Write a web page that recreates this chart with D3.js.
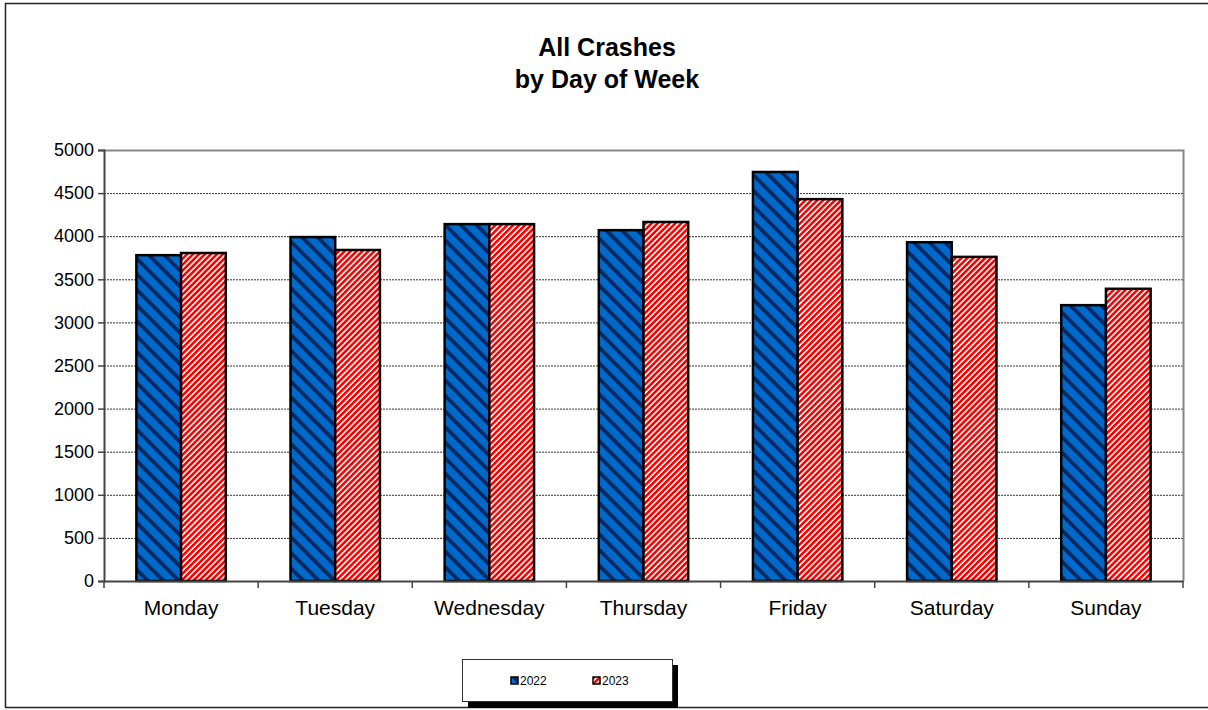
<!DOCTYPE html>
<html>
<head>
<meta charset="utf-8">
<script src="https://d3js.org/d3.v7.min.js"></script>
<style>
  body { margin: 0; background: #fff; }
  svg text { font-family: "Liberation Sans", Arial, sans-serif; }
</style>
</head>
<body>
<svg id="chart" width="1208" height="710"></svg>
<script>
// data
var days = ["Monday", "Tuesday", "Wednesday", "Thursday", "Friday", "Saturday", "Sunday"];
var years = ["2022", "2023"];
var crashes2022 = [3780, 3990, 4140, 4070, 4745, 3930, 3200];
var crashes2023 = [3805, 3840, 4140, 4165, 4430, 3760, 3390];
var yTicks = [0, 500, 1000, 1500, 2000, 2500, 3000, 3500, 4000, 4500, 5000];

var series = [crashes2022, crashes2023];

var svg = d3.select("#chart");

// hatch patterns
var defs = svg.append("defs");
var p1 = defs.append("pattern")
    .attr("id", "hatch2022")
    .attr("patternUnits", "userSpaceOnUse")
    .attr("width", 11).attr("height", 11)
    .attr("patternTransform", "rotate(-45)");
p1.append("rect").attr("width", 11).attr("height", 11).attr("fill", "#006ACC");
p1.append("rect").attr("width", 3.8).attr("height", 11).attr("fill", "#0A2860");

var p2 = defs.append("pattern")
    .attr("id", "hatch2023")
    .attr("patternUnits", "userSpaceOnUse")
    .attr("width", 4.2).attr("height", 4.2)
    .attr("patternTransform", "rotate(45)");
p2.append("rect").attr("width", 4.2).attr("height", 4.2).attr("fill", "#ffffff");
p2.append("rect").attr("width", 2.6).attr("height", 4.2).attr("fill", "#FF0000");

var fills = ["url(#hatch2022)", "url(#hatch2023)"];

// outer frame
svg.append("rect")
    .attr("x", 5.5).attr("y", 3.5)
    .attr("width", 1210).attr("height", 704)
    .attr("fill", "none")
    .attr("stroke", "#222").attr("stroke-width", 1.5);

// title
var title = svg.append("text")
    .attr("text-anchor", "middle")
    .style("font-size", "25px").style("font-weight", "bold");
title.append("tspan").attr("x", 607).attr("y", 56).text("All Crashes");
title.append("tspan").attr("x", 607).attr("y", 88).text("by Day of Week");

var plotL = 104, plotR = 1183, plotT = 150, plotB = 581;

var x = d3.scaleBand().domain(days).range([plotL, plotR]).paddingInner(0.42).paddingOuter(0.21);
var xs = d3.scaleBand().domain(years).range([0, x.bandwidth()]);
var y = d3.scaleLinear().domain([0, 5000]).range([plotB, plotT]);

// gridlines
svg.append("g").selectAll("line")
    .data(yTicks.filter(function(d) { return d > 0 && d < 5000; }))
    .enter().append("line")
    .attr("x1", plotL).attr("x2", plotR)
    .attr("y1", function(d) { return y(d) + 0.5; })
    .attr("y2", function(d) { return y(d) + 0.5; })
    .attr("stroke", "#333").attr("stroke-width", 1)
    .attr("stroke-dasharray", "2,1");

// plot area border top/right
svg.append("path")
    .attr("d", "M" + plotL + "," + (plotT + 0.5) + "H" + (plotR + 0.5) + "V" + plotB)
    .attr("fill", "none").attr("stroke", "#888").attr("stroke-width", 2);

// bars
days.forEach(function(day, i) {
  years.forEach(function(yr, j) {
    svg.append("rect")
      .attr("x", x(day) + xs(yr))
      .attr("y", y(series[j][i]))
      .attr("width", xs.bandwidth())
      .attr("height", plotB - y(series[j][i]))
      .attr("fill", fills[j])
      .attr("stroke", "#000").attr("stroke-width", 2.5);
  });
});

// y axis
var yAxis = svg.append("g")
    .attr("transform", "translate(" + plotL + ",0)")
    .call(d3.axisLeft(y).tickValues(yTicks).tickFormat(d3.format("d")).tickSize(6).tickPadding(4));
yAxis.selectAll("text").style("font-size", "18px").attr("fill", "#000")
    .style("font-family", "'Liberation Sans', Arial, sans-serif");
yAxis.select(".domain").attr("stroke", "#444").attr("stroke-width", 2);
yAxis.selectAll(".tick line").attr("stroke", "#444").attr("stroke-width", 1.5);

// x axis
var xAxis = svg.append("g")
    .attr("transform", "translate(0," + plotB + ")")
    .call(d3.axisBottom(x).tickSize(0).tickPadding(19));
xAxis.selectAll("text").style("font-size", "21px").attr("fill", "#000")
    .style("font-family", "'Liberation Sans', Arial, sans-serif");
xAxis.select(".domain").attr("stroke", "#444").attr("stroke-width", 2);
// boundary ticks between categories
var bounds = d3.range(days.length + 1).map(function(k) { return plotL + k * x.step(); });
xAxis.selectAll(".bound").data(bounds).enter().append("line")
    .attr("class", "bound")
    .attr("x1", function(d) { return d; }).attr("x2", function(d) { return d; })
    .attr("y1", 0).attr("y2", 7)
    .attr("stroke", "#444").attr("stroke-width", 1.5);

// legend
var lg = svg.append("g").attr("transform", "translate(462,659)");
lg.append("rect").attr("x", 6).attr("y", 6).attr("width", 210).attr("height", 43).attr("fill", "#000");
lg.append("rect").attr("x", 0.5).attr("y", 0.5).attr("width", 210).attr("height", 42)
    .attr("fill", "#fff").attr("stroke", "#333").attr("stroke-width", 1);
var legX = [49, 131];
years.forEach(function(yr, j) {
  lg.append("rect")
    .attr("x", legX[j]).attr("y", 18)
    .attr("width", 7).attr("height", 7)
    .attr("fill", fills[j]).attr("stroke", "#000").attr("stroke-width", 1.5);
  lg.append("text")
    .attr("x", legX[j] + 9).attr("y", 26)
    .style("font-size", "12px")
    .text(yr);
});
</script>
</body>
</html>
